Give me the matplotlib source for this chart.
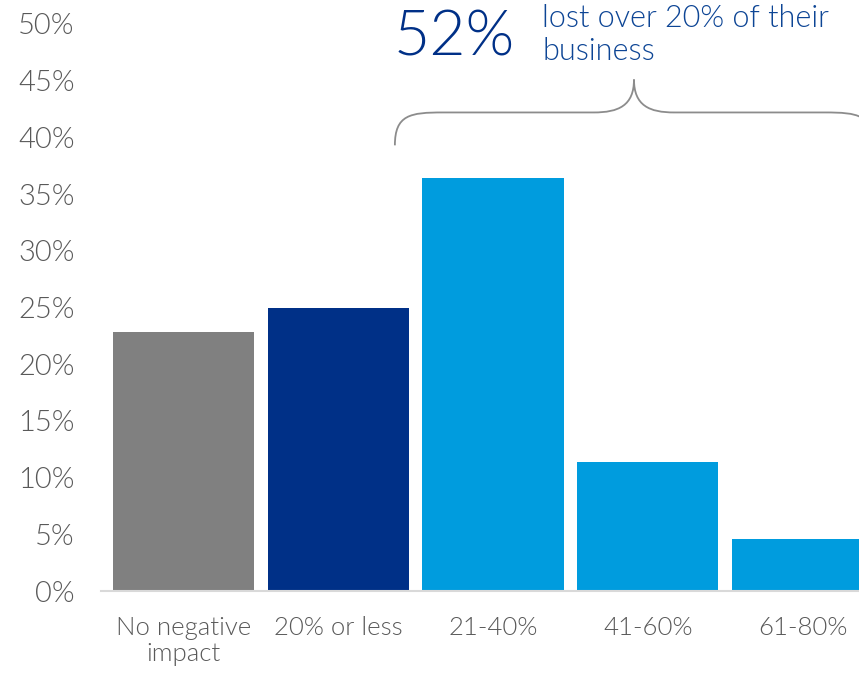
import matplotlib
matplotlib.use("Agg")
import matplotlib.pyplot as plt
from matplotlib.path import Path
from matplotlib.patches import PathPatch

# Share of businesses by revenue lost
categories = ["No negative\nimpact", "20% or less", "21-40%", "41-60%", "61-80%"]
values = [22.8, 25.0, 36.4, 11.4, 4.6]
bar_colors = ["#808080", "#003087", "#009CDE", "#009CDE", "#009CDE"]
y_ticks = [0, 5, 10, 15, 20, 25, 30, 35, 40, 45, 50]
y_tick_labels = [f"{t}%" for t in y_ticks]
headline = "52%"
headline_note = "lost over 20% of their\nbusiness"

plt.rcParams["font.family"] = ["Lato", "DejaVu Sans"]

W, H = 859, 675
fig = plt.figure(figsize=(W / 100, H / 100), dpi=100)
ax = fig.add_axes([101 / W, 84 / H, 758 / W, 567 / H])

x = list(range(len(categories)))
ax.bar(x, values, width=0.912, color=bar_colors, zorder=2)

ax.set_xlim(-0.533, 4.365)
ax.set_ylim(0, 50)
ax.set_yticks(y_ticks)
ax.set_yticklabels(y_tick_labels)
ax.set_xticks(x)
ax.set_xticklabels(categories, linespacing=1.1)
ax.tick_params(axis="y", length=0, pad=19, labelsize=21, labelcolor="#595959")
ax.tick_params(axis="x", length=0, pad=18, labelsize=18.5, labelcolor="#595959")
for lbl in ax.get_yticklabels() + ax.get_xticklabels():
    lbl.set_fontweight(300)

for side in ("top", "right", "left"):
    ax.spines[side].set_visible(False)
ax.spines["bottom"].set_color("#d9d9d9")
ax.spines["bottom"].set_linewidth(1.5)

# Curly brace spanning the three heaviest-loss groups
bl, bc, br = 1.366, 2.911, 4.456
y_end, y_flat, y_tip = 39.3, 42.2, 45.1
dx_curve = 0.31
dx_tip = 0.26
verts = [
    (bl, y_end),
    (bl, y_flat - 0.2), (bl + 0.1, y_flat), (bl + dx_curve, y_flat),
    (bc - dx_tip, y_flat),
    (bc - 0.1, y_flat), (bc, y_flat + 0.6), (bc, y_tip),
    (bc, y_flat + 0.6), (bc + 0.1, y_flat), (bc + dx_tip, y_flat),
    (br - dx_curve, y_flat),
    (br - 0.1, y_flat), (br, y_flat - 0.2), (br, y_end),
]
codes = [Path.MOVETO,
         Path.CURVE4, Path.CURVE4, Path.CURVE4,
         Path.LINETO,
         Path.CURVE4, Path.CURVE4, Path.CURVE4,
         Path.CURVE4, Path.CURVE4, Path.CURVE4,
         Path.LINETO,
         Path.CURVE4, Path.CURVE4, Path.CURVE4]
brace = PathPatch(Path(verts, codes), facecolor="none", edgecolor="#8c8c8c",
                  linewidth=1.3, clip_on=False, zorder=3)
ax.add_patch(brace)

ax.text(1.355, 47.2, headline, fontsize=45, color="#003087", fontweight=300,
        ha="left", va="baseline", clip_on=False)
ax.text(2.317, 46.8, headline_note, fontsize=22, color="#0d4595", fontweight=300,
        ha="left", va="baseline", linespacing=1.18, clip_on=False)

fig.savefig("out.png", dpi=100)
